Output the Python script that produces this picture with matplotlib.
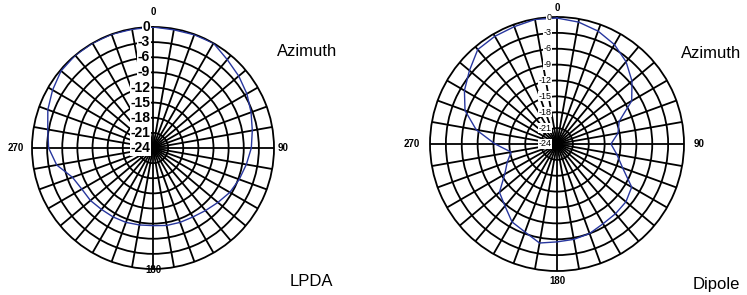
import numpy as np
import matplotlib
matplotlib.use("Agg")
import matplotlib.pyplot as plt

plt.rcParams['font.family'] = ['Liberation Sans', 'DejaVu Sans']

# azimuth angles (deg, clockwise from north)
angles = np.arange(0, 360, 10)

# relative level in dB
lpda_db = [0, -0.2, -0.1, 0, -1.1, -1.8, -2.5, -3.3, -4.0,
           -4.5, -5.2, -5.8, -6.4, -7.2, -7.8, -8.2, -8.3, -8.4,
           -8.6, -8.5, -8.3, -8.2, -8.1, -7.8, -7.7, -7.0, -4.6,
           -3.3, -2.8, -1.8, -1.0, -0.2, 0, 0, 0, -0.1]
dipole_db = [-0.2, -0.6, -1.3, -2.3, -3.7, -5.5, -7.7, -11.5, -12.3,
             -13.8, -12.5, -10.8, -7.7, -7.0, -6.8, -6.6, -6.0, -5.7,
             -5.5, -5.0, -6.3, -7.0, -8.7, -9.8, -12.6, -14.0, -15.2,
             -12.3, -8.5, -5.5, -3.8, -2.4, -0.7, -0.5, -0.4, -0.1]

ring_values = np.arange(-24, 1, 3)
ring_labels = ['-24', '-21', '-18', '-15', '-12', '-9', '-6', '-3', '0']
compass = [(0, '0'), (90, '90'), (180, '180'), (270, '270')]

W, H = 747, 295
fig = plt.figure(figsize=(W / 100, H / 100), dpi=100)


def px_axes(cx, cy, r):
    # square polar axes centred on pixel (cx, cy) with radius r
    return fig.add_axes([(cx - r) / W, (H - cy - r) / H, 2 * r / W, 2 * r / H],
                        projection='polar')


def setup(ax):
    ax.set_theta_zero_location('N')
    ax.set_theta_direction(-1)
    ax.set_ylim(-24, 0)
    ax.set_xticks(np.deg2rad(angles))
    ax.set_xticklabels([])
    ax.set_yticks(ring_values[1:-1])
    ax.set_yticklabels([])
    ax.tick_params(length=0)
    ax.grid(True, color='black', linewidth=1.3)
    ax.spines['polar'].set_color('black')
    ax.spines['polar'].set_linewidth(1.3)


def pattern(ax, db):
    th = np.deg2rad(np.append(angles, angles[0]))
    vals = np.append(db, db[0])
    ax.plot(th, vals, color='#27369e', linewidth=1.0, zorder=4)


def ring_text(ax, size, weight, dx):
    for v, lab in zip(ring_values, ring_labels):
        ax.annotate(lab, xy=(0, v), xytext=(dx, 0), textcoords='offset points',
                    ha='right', va='center', fontsize=size, fontweight=weight,
                    annotation_clip=False, zorder=5,
                    bbox=dict(boxstyle='square,pad=0.05', fc='white', ec='none'))


def compass_text(ax, rpos):
    for (deg, lab), r in zip(compass, rpos):
        ax.text(np.deg2rad(deg), r, lab, ha='center', va='center',
                fontsize=7, fontweight='bold', clip_on=False)


# LPDA
ax1 = px_axes(153, 148, 121)
setup(ax1)
pattern(ax1, lpda_db)
ring_text(ax1, 10, 'bold', -2)
compass_text(ax1, [3.0, 1.7, 0.2, 3.2])

# Dipole
ax2 = px_axes(557, 144, 127)
setup(ax2)
pattern(ax2, dipole_db)
ring_text(ax2, 6.5, 'normal', -4)
compass_text(ax2, [1.7, 2.8, 1.9, 3.4])

fig.text(307 / W, 1 - 52 / H, 'Azimuth', ha='center', va='center', fontsize=12)
fig.text(311 / W, 1 - 282 / H, 'LPDA', ha='center', va='center', fontsize=12)
fig.text(711 / W, 1 - 54 / H, 'Azimuth', ha='center', va='center', fontsize=12)
fig.text(716 / W, 1 - 284 / H, 'Dipole', ha='center', va='center', fontsize=12)

fig.savefig('out.png', dpi=100, facecolor='white')
